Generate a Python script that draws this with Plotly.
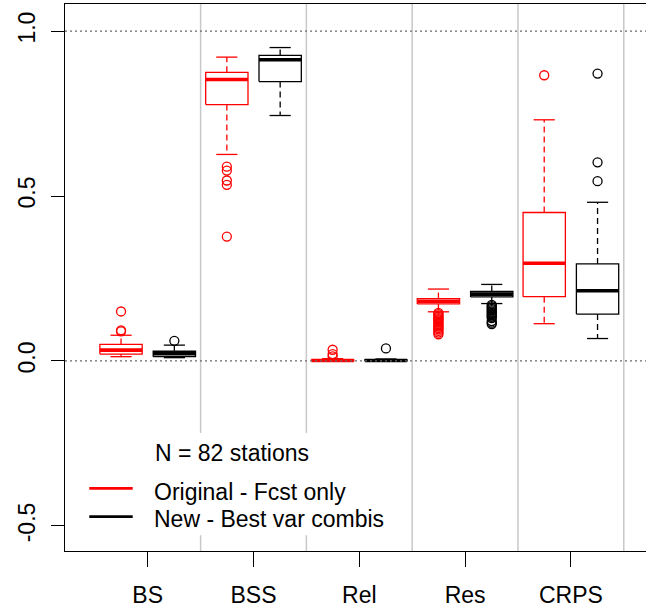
import plotly.graph_objects as go

# ---------------- data ----------------
categories = ["BS", "BSS", "Rel", "Res", "CRPS"]

orig_lo = [0.013, 0.626, 0.000, 0.149, 0.113]
orig_q1 = [0.021, 0.777, 0.0005, 0.173, 0.195]
orig_med = [0.033, 0.853, 0.0015, 0.181, 0.296]
orig_q3 = [0.050, 0.875, 0.003, 0.189, 0.450]
orig_hi = [0.078, 0.921, 0.007, 0.218, 0.731]
orig_out = [
    [0.090, 0.093, 0.150],
    [0.589, 0.577, 0.547, 0.534, 0.377],
    [0.014, 0.021, 0.034],
    [0.146, 0.142, 0.138, 0.134, 0.130, 0.127, 0.124, 0.120, 0.116, 0.112,
     0.108, 0.104, 0.100, 0.096, 0.091, 0.086, 0.081],
    [0.866],
]

new_lo = [0.010, 0.744, 0.000, 0.174, 0.068]
new_q1 = [0.013, 0.847, 0.0005, 0.194, 0.142]
new_med = [0.022, 0.913, 0.0015, 0.2025, 0.213]
new_q3 = [0.0295, 0.926, 0.003, 0.2105, 0.294]
new_hi = [0.048, 0.950, 0.006, 0.232, 0.481]
new_out = [
    [0.061],
    [],
    [0.038],
    [0.170, 0.166, 0.162, 0.158, 0.154, 0.150, 0.146, 0.142, 0.138, 0.134,
     0.130, 0.121, 0.116, 0.112],
    [0.871, 0.602, 0.545],
]

series_names = ["Original - Fcst only", "New - Best var combis"]
series_colors = ["#FF0000", "#000000"]
legend_title = "N = 82 stations"

y_tick_vals = [-0.5, 0.0, 0.5, 1.0]
y_tick_text = ["-0.5", "0.0", "0.5", "1.0"]
ref_lines = [0.0, 1.0]

# ---------------- styling ----------------
FONT = "Liberation Sans, Arial, sans-serif"
FS = 23
OFFSET = 0.252
HALF_W = 0.2
CAP_HALF = 0.1

fig = go.Figure()


def add_boxes(lo, q1, med, q3, hi, outs, color, offset):
    bx, by, mx, my, wx, wy, cx, cy, ox, oy = ([] for _ in range(10))
    for i in range(len(categories)):
        c = i + 1 + offset
        bx += [c - HALF_W, c + HALF_W, c + HALF_W, c - HALF_W, c - HALF_W, None]
        by += [q1[i], q1[i], q3[i], q3[i], q1[i], None]
        mx += [c - HALF_W, c + HALF_W, None]
        my += [med[i], med[i], None]
        wx += [c, c, None, c, c, None]
        wy += [q3[i], hi[i], None, q1[i], lo[i], None]
        cx += [c - CAP_HALF, c + CAP_HALF, None, c - CAP_HALF, c + CAP_HALF, None]
        cy += [hi[i], hi[i], None, lo[i], lo[i], None]
        ox += [c] * len(outs[i])
        oy += outs[i]
    common = dict(mode="lines", showlegend=False, hoverinfo="skip")
    fig.add_trace(go.Scatter(x=wx, y=wy, line=dict(color=color, width=1.3, dash="6px,4px"), **common))
    fig.add_trace(go.Scatter(x=cx, y=cy, line=dict(color=color, width=1.3), **common))
    fig.add_trace(go.Scatter(x=bx, y=by, line=dict(color=color, width=1.3), **common))
    fig.add_trace(go.Scatter(x=mx, y=my, line=dict(color=color, width=3.6), **common))
    fig.add_trace(go.Scatter(x=ox, y=oy, mode="markers", showlegend=False,
                             marker=dict(symbol="circle-open", size=9, color=color,
                                         line=dict(width=1.3, color=color))))


add_boxes(orig_lo, orig_q1, orig_med, orig_q3, orig_hi, orig_out, series_colors[0], -OFFSET)
add_boxes(new_lo, new_q1, new_med, new_q3, new_hi, new_out, series_colors[1], OFFSET)

shapes = []
# separators between categories
for i in range(len(categories)):
    sx = i + 1.5
    shapes.append(dict(type="line", xref="x", yref="paper", x0=sx, x1=sx, y0=0, y1=1,
                       line=dict(color="#C8C8C8", width=1.5), layer="below"))
# legend background
shapes.append(dict(type="rect", xref="paper", yref="paper", x0=0.017, x1=0.568, y0=0.029, y1=0.2157,
                   line=dict(width=0), fillcolor="white", layer="below"))
# dotted reference lines
for v in ref_lines:
    shapes.append(dict(type="line", xref="paper", yref="y", x0=0, x1=1, y0=v, y1=v,
                       line=dict(color="#6A6A6A", width=1.3, dash="2px,3px"), layer="above"))
# legend lines
leg_y = [0.1146, 0.0627]
for col, ly in zip(series_colors, leg_y):
    shapes.append(dict(type="line", xref="paper", yref="paper", x0=0.0418, x1=0.1165, y0=ly, y1=ly,
                       line=dict(color=col, width=2.7)))

annotations = [
    dict(text=legend_title, xref="paper", yref="paper", x=0.152, y=0.1792,
         xanchor="left", yanchor="middle", showarrow=False, font=dict(size=FS, color="black", family=FONT)),
]
for name, ty in zip(series_names, [0.1084, 0.0590]):
    annotations.append(dict(text=name, xref="paper", yref="paper", x=0.150, y=ty,
                            xanchor="left", yanchor="middle", showarrow=False,
                            font=dict(size=FS, color="black", family=FONT)))

fig.update_layout(
    width=646, height=607,
    margin=dict(l=65, r=0, t=4, b=56, pad=0),
    plot_bgcolor="white", paper_bgcolor="white",
    font=dict(family=FONT, size=FS, color="black"),
    shapes=shapes, annotations=annotations,
    showlegend=False,
    xaxis=dict(range=[0.2183, 5.71], tickvals=list(range(1, len(categories) + 1)), ticktext=categories,
               showgrid=False, zeroline=False, showline=True, linecolor="black", linewidth=1.3,
               mirror=True, ticks="outside", ticklen=15, tickwidth=1.3, tickcolor="black",
               ticklabelstandoff=8, tickfont=dict(size=FS), automargin=False),
    yaxis=dict(range=[-0.576, 1.082], tickvals=y_tick_vals, ticktext=y_tick_text,
               showgrid=False, zeroline=False, showline=True, linecolor="black", linewidth=1.3,
               ticks="outside", ticklen=13, tickwidth=1.3, tickcolor="black", tickangle=-90,
               ticklabelstandoff=7, tickfont=dict(size=FS), automargin=False),
)

fig.write_html("out.html", config={"displayModeBar": False},
               post_script="document.body.style.margin='0';document.body.style.overflow='hidden';")
